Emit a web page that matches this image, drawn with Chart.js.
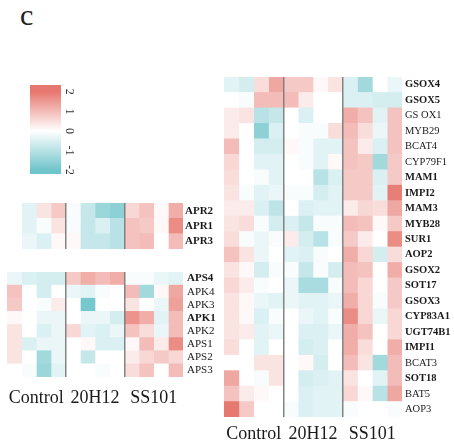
<!DOCTYPE html>
<html>
<head>
<meta charset="utf-8">
<script src="https://cdn.jsdelivr.net/npm/chart.js@4.4.0/dist/chart.umd.min.js"></script>
<style>
  body { margin: 0; background: #fff; }
  #wrap { position: relative; width: 454px; height: 445px; overflow: hidden; }
  canvas { position: absolute; }
  #tag { position: absolute; left: 20px; top: -2px; font: 30px "Liberation Serif", serif; color: #222; }
</style>
</head>
<body>
<div id="wrap">
  <div id="tag">c</div>
  <canvas id="legendChart" width="51" height="89" style="left:30px;top:85px"></canvas>
  <canvas id="aprChart" width="215" height="46" style="left:7px;top:203px"></canvas>
  <canvas id="apsChart" width="215" height="138" style="left:7px;top:272px"></canvas>
  <canvas id="gslChart" width="230" height="368" style="left:224px;top:77px"></canvas>
</div>
<script>
// groups, 4 replicate columns each
var groups = ['Control', '20H12', 'SS101'];
var replicates = 4;

// colour key
var legendTicks = [-2, -1, 0, 1, 2];
var legendMin = -2.2, legendMax = 2.35;

// APR block
var aprGenes = ['APR2', 'APR1', 'APR3'];
var aprBold = ['APR2', 'APR1', 'APR3'];
var aprValues = [
  [0, -0.4, 0.4, 0.8, -0.1, -0.8, -1.4, -1.6, 0.6, 0.9, 0.1, 1.2],
  [0, -0.4, -0.1, 0.4, -0.1, -0.8, -0.5, -1.0, 0.9, 0.8, 0.1, 1.7],
  [0, -0.3, -0.5, 0.1, 0.1, -0.8, -0.8, -1.0, 0.9, 1.0, 0, 1.0]
];

// APS / APK block
var apsGenes = ['APS4', 'APK4', 'APK3', 'APK1', 'APK2', 'APS1', 'APS2', 'APS3'];
var apsBold = ['APS4', 'APK1'];
var apsValues = [
  [-0.3, -0.5, -0.6, -0.6, 0.8, 1.2, 1.0, 1.2, -0.1, -0.1, -0.3, -0.4],
  [0.9, 0, -0.6, 0, -0.3, -0.4, -0.1, 0, 1.0, -1.3, 0.1, 1.3],
  [0.8, 0, -0.1, 0.3, 0, -1.9, 0, 0, 0.4, 0, -0.3, 1.4],
  [0.1, 0, -0.3, -0.3, 0, -0.3, -0.3, -0.6, 1.6, 1.2, -0.4, 1.0],
  [0.4, 0, -0.5, -0.3, 0.6, -0.4, -0.5, -0.3, 0.9, 0.5, -0.3, 1.0],
  [0.4, -0.5, -0.3, -0.3, 0, 0.1, -0.5, -0.5, 0.1, 1.0, 0.3, 1.7],
  [0.4, 0, -1.3, -0.3, 0, -0.8, 0, 0, 0.3, 0.6, 0.8, 0.6],
  [0, -0.1, -1.4, -0.4, 0, 0, -0.1, 0, 0.5, 0.9, 0, 1.0]
];

// glucosinolate block
var gslGenes = ['GSOX4', 'GSOX5', 'GS OX1', 'MYB29', 'BCAT4', 'CYP79F1', 'MAM1', 'IMPI2',
  'MAM3', 'MYB28', 'SUR1', 'AOP2', 'GSOX2', 'SOT17', 'GSOX3', 'CYP83A1', 'UGT74B1',
  'IMPI1', 'BCAT3', 'SOT18', 'BAT5', 'AOP3'];
var gslBold = ['GSOX4', 'GSOX5', 'MAM1', 'IMPI2', 'MAM3', 'MYB28', 'SUR1', 'AOP2', 'GSOX2',
  'SOT17', 'GSOX3', 'CYP83A1', 'UGT74B1', 'IMPI1', 'SOT18'];
var gslValues = [
  [-0.4, -0.6, 0.5, 1.3, 0.8, 0.8, 0.1, 0.4, -0.5, -1.3, 0, -0.3],
  [0, -0.1, 1.0, 1.0, 1.0, 0.3, 0, 0, -0.5, -0.5, -0.6, -0.6],
  [0.3, 0.4, -1.0, -0.8, 0, -0.5, 0, 0, 1.2, 0.9, -0.4, 0.9],
  [0.3, 0, -1.6, -0.5, 0, -0.1, -0.1, 0.5, 1.0, 0.5, -0.3, 0.9],
  [1.0, 0, -0.6, -0.6, 0.1, -0.1, -0.4, -0.4, 0.9, 0.3, -0.5, 0.9],
  [0.6, 0, -0.4, -0.4, 0, -0.1, -0.4, 0.1, 0.9, 0.8, -1.3, 0.8],
  [0.5, 0, -0.1, -0.4, 0, 0, -1.0, -0.5, 0.8, 0.8, -0.5, 0.8],
  [0.4, -0.1, -0.4, -0.3, -0.1, -0.1, -0.6, -0.4, 0.8, 0.8, -0.4, 1.9],
  [0.3, 0.3, -0.5, -0.9, 0, -0.5, -0.4, -0.4, 0.3, 0.6, 0.5, 1.3],
  [0.4, 0.5, -0.1, -0.6, -0.5, -0.8, -0.1, -0.1, 1.0, 0.9, 0.1, 0.8],
  [0.5, -0.1, -0.3, -0.1, 0.3, -0.6, -1.0, -0.1, 0.8, 0.3, 0, 1.7],
  [0.9, 0.4, -0.3, 0, -0.4, -0.5, -0.1, 0, 1.2, 0.6, -0.6, 0.5],
  [0.4, 0.1, -0.6, -0.1, -0.1, -0.8, -0.1, -0.6, 1.0, 0.9, 0, 1.2],
  [0.6, 0.3, -0.1, 0, -0.3, -1.2, -1.2, -0.1, 1.0, 0.6, 0, 0.8],
  [0.4, 0.1, -0.3, -0.4, -0.3, -0.4, -0.4, -0.3, 1.2, 0.6, -0.1, 0.8],
  [0.4, 0.1, -0.5, -0.1, 0, -0.3, -0.4, -0.1, 1.7, 0.6, -0.3, 0.6],
  [0.4, 0.3, -0.4, -0.3, 0, -0.5, -0.5, -0.3, 1.2, 0.9, 0, 0.6],
  [0.5, 0, -0.4, 0, 0, -0.6, -0.5, 0, 1.2, 0.5, 0, 1.2],
  [0, 0, 0.4, 0.4, 0, 0.1, -0.6, 0, 1.0, 0.4, -1.3, 1.0],
  [1.3, 0, -0.1, 0.4, 0, -0.6, -0.5, -0.4, 0.4, 0, -0.4, 1.0],
  [0.9, 0.3, 0.1, 0, 0, -0.5, -0.4, -0.4, 0.6, 0.1, -1.0, 1.3],
  [2.0, 0.8, 0, 0, -0.1, -0.5, -0.4, -0.4, -0.1, 0, 0, -0.1]
];

var lowColor = [112, 196, 203];
var midColor = [255, 255, 255];
var highColor = [231, 120, 112];
var serif = '"Liberation Serif", "Times New Roman", serif';

function colorFor(v) {
  var t = Math.max(-1, Math.min(1, v / 2));
  var end = t < 0 ? lowColor : highColor;
  var a = Math.abs(t);
  var c = midColor.map(function(m, i) { return Math.round(m + (end[i] - m) * a); });
  return 'rgb(' + c[0] + ',' + c[1] + ',' + c[2] + ')';
}

function noPadding(s) {
  s.paddingTop = 0; s.paddingBottom = 0; s.paddingLeft = 0; s.paddingRight = 0;
}

//Heatmap as horizontal stacked bars, one dataset per column
function heatmap(id, genes, values, bold, opt) {
  var nCols = groups.length * replicates;
  var datasets = [];
  for (var c = 0; c < nCols; c++) {
    datasets.push({
      data: genes.map(function() { return 1; }),
      backgroundColor: values.map(function(row) { return colorFor(row[c]); }),
      borderWidth: 0,
      barPercentage: 1,
      categoryPercentage: 1
    });
  }
  var centers = groups.map(function(g, i) { return i * replicates + replicates / 2; });
  var breaks = groups.slice(1).map(function(g, i) { return (i + 1) * replicates; });
  var tickVals = centers.concat(breaks).sort(function(a, b) { return a - b; });

  return new Chart(document.getElementById(id).getContext('2d'), {
    type: 'bar',
    data: { labels: genes, datasets: datasets },
    options: {
      indexAxis: 'y',
      responsive: false,
      animation: false,
      layout: { padding: 0 },
      scales: {
        x: {
          type: 'linear', stacked: true, min: 0, max: nCols, position: 'bottom',
          afterBuildTicks: function(s) { s.ticks = tickVals.map(function(v) { return { value: v }; }); },
          afterFit: function(s) { s.height = opt.xHeight; noPadding(s); },
          grid: {
            z: 1, drawTicks: false, lineWidth: 1.5,
            color: function(ctx) {
              return ctx.tick && breaks.indexOf(ctx.tick.value) >= 0 ? 'rgba(125,125,125,0.95)' : 'rgba(0,0,0,0)';
            }
          },
          border: { display: false },
          ticks: {
            display: opt.showGroups, autoSkip: false, maxRotation: 0, padding: opt.xPad,
            color: '#1a1a1a', font: { family: serif, size: 18 },
            callback: function(v) { var i = centers.indexOf(v); return i >= 0 ? groups[i] : ''; }
          }
        },
        y: {
          type: 'category', stacked: true, position: 'right',
          afterFit: function(s) { s.width = opt.yWidth; noPadding(s); },
          grid: { display: false, drawTicks: false },
          border: { display: false },
          ticks: {
            autoSkip: false, padding: opt.yPad, color: '#1a1a1a',
            font: function(ctx) {
              var isBold = bold.indexOf(genes[ctx.index]) >= 0;
              return { family: serif, size: opt.labelSize, weight: isBold ? 'bold' : 'normal' };
            }
          }
        }
      },
      plugins: { legend: { display: false }, tooltip: { enabled: false } }
    }
  });
}

function legendBar() {
  var stops = [-2, -1.5, -1, -0.5, 0, 0.5, 1, 1.5, 2];
  new Chart(document.getElementById('legendChart').getContext('2d'), {
    type: 'bar',
    data: {
      labels: [''],
      datasets: [{
        data: [[legendMin, legendMax]],
        borderWidth: 0, barPercentage: 1, categoryPercentage: 1,
        backgroundColor: function(ctx) {
          var chart = ctx.chart, y = chart.scales.y;
          if (!chart.chartArea || !y) return colorFor(0);
          var top = y.getPixelForValue(legendMax), bottom = y.getPixelForValue(legendMin);
          var g = chart.ctx.createLinearGradient(0, bottom, 0, top);
          stops.forEach(function(v) {
            var p = (y.getPixelForValue(v) - bottom) / (top - bottom);
            g.addColorStop(p, colorFor(v));
          });
          g.addColorStop(0, colorFor(-2));
          g.addColorStop(1, colorFor(2));
          return g;
        }
      }]
    },
    options: {
      responsive: false,
      animation: false,
      layout: { padding: 0 },
      scales: {
        x: { display: false },
        y: {
          position: 'right', min: legendMin, max: legendMax,
          afterBuildTicks: function(s) { s.ticks = legendTicks.map(function(v) { return { value: v }; }); },
          afterFit: function(s) { s.width = 20; noPadding(s); },
          grid: { display: false, drawTicks: false },
          border: { display: false },
          ticks: {
            minRotation: -90, maxRotation: -90, crossAlign: 'center', padding: 3,
            color: '#333', font: { family: serif, size: 12 }
          }
        }
      },
      plugins: { legend: { display: false }, tooltip: { enabled: false } }
    }
  });
}

// MAIN
legendBar();
heatmap('aprChart', aprGenes, aprValues, aprBold, { xHeight: 0, showGroups: false, xPad: 0, yWidth: 39, yPad: 2, labelSize: 11 });
heatmap('apsChart', apsGenes, apsValues, apsBold, { xHeight: 33, showGroups: true, xPad: 10, yWidth: 39, yPad: 4, labelSize: 11 });
heatmap('gslChart', gslGenes, gslValues, gslBold, { xHeight: 28, showGroups: true, xPad: 6, yWidth: 52, yPad: 3, labelSize: 10.5 });
</script>
</body>
</html>
